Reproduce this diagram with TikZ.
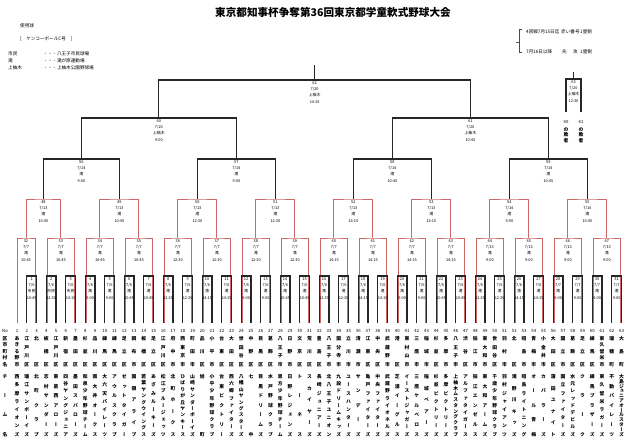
\documentclass[tikz,border=0pt]{standalone}
\usepackage{fontspec}
\setmainfont{Noto Sans CJK JP}
\newfontfamily\tatefont[RawFeature=+vert]{Noto Sans CJK JP}
\usetikzlibrary{positioning,calc}
\definecolor{bracketred}{RGB}{205,105,105}

% vertical (tategaki) text spread over a fixed height
\def\tatecell#1{\hbox to 1em{\hss\raisebox{0pt}[.9em][.1em]{#1}\hss}}
\def\tateaux#1{\ifx\relax#1\else\tatecell{#1}\vfill\expandafter\tateaux\fi}
\newcommand\tatebox[2]{\vbox to #1{\offinterlineskip\expandafter\tateaux#2\relax\unskip}}

\begin{document}
\begin{tikzpicture}[
    x=1pt,y=-1pt,
    line/.style={draw=black!85,line width=1.1pt},
    redline/.style={draw=bracketred,line width=0.95pt},
    info/.style={anchor=north,align=center,inner sep=0pt,font=\fontsize{3.9}{6.2}\selectfont},
    note/.style={anchor=west,inner sep=0pt,font=\fontsize{4.6}{6}\selectfont},
    num/.style={inner sep=0pt,font=\fontsize{4.3}{5}\selectfont},
    tate/.style={anchor=north,inner sep=0pt,font=\tatefont\bfseries\fontsize{4.8}{5}\selectfont},
]
\useasboundingbox[fill=white] (0,0) rectangle (640,443);

% ===== Title and notes =====
\node[font=\bfseries\fontsize{10.6}{12}\selectfont] (title) at (333,12) {東京都知事杯争奪第36回東京都学童軟式野球大会};

\node[note] (ball) at (20,26) {使用球};
\node[note] (ballname) at (20,39) {[\quad ケンコーボールC号\quad ]};
\node[note] (v1) at (8,54) {市民};
\node[note] (v2) at (8,61) {滝};
\node[note] (v3) at (8,68) {上柚木};
\node[note] (v1name) at (43,54) {・・・八王子市民球場};
\node[note] (v2name) at (43,61) {・・・滝が原運動場};
\node[note] (v3name) at (43,68) {・・・上柚木公園野球場};

\node[note] (side1) at (526,32) {4回戦7月15日迄};
\node[note] (side1b) at (561,32) {赤い番号};
\node[note] (side1c) at (580,32) {1塁側};
\node[note] (side2) at (526,52) {7月16日以降};
\node[note] (side2b) at (562,52) {先};
\node[note] (side2c) at (573,52) {攻};
\node[note] (side2d) at (580,52) {1塁側};
\draw[black!70,line width=0.5pt] (side1.west) ++(-4,-3) -- ++(-3,0) -- ++(0,23) -- ++(3,0);
\draw[black!70,line width=0.5pt] (side1.west) ++(-7,10) -- ++(-3,0);

% ===== Rows =====
\coordinate (row1) at (0,276);
\coordinate (row2) at (0,238);
\coordinate (row3) at (0,199);
\coordinate (row4) at (0,159);
\coordinate (row5) at (0,118);
\coordinate (row6) at (0,80);

% ===== Teams =====
\foreach \k in {1,...,63}
    \coordinate (t\k) at ({17+9.75*(\k-1)},323);

\node[num] (nohead) at (5,331) {No};
\node[tate] (dhead) at (5,336) {\tatebox{30pt}{区市町村名}};
\node[tate] (nhead) at (5,374) {\tatebox{62pt}{チーム名}};

\foreach \k/\dname/\tname in {
    1/あきる野市/西多摩ライオンズ, 2/江戸川区/瑞江サンボーイズ, 3/北区/北町クラブ,
    4/板橋区/志村サンダーズ, 5/江戸川区/東葛西アローズ, 6/新宿区/四谷ヤングジュニア,
    7/墨田区/墨田スパローズ, 8/杉並区/和泉少年野球チーム, 9/品川区/南大井オークス,
    10/練馬区/大六天パイレーツ, 11/練馬区/アウルスクラブ, 12/足立区/ゼットタイガー,
    13/調布市/国領アライブ, 14/板橋区/若葉ヤングウイングス, 15/足立区/あざみルーキーズ,
    16/江戸川区/松江ブルージェッツ, 17/府中市/北町ホークス, 18/西東京市/ひばりが丘ヤンキース,
    19/町田市/山崎サンダーボーイズ, 20/品川区/旭町, 21/小平市/小平少年野球クラブ,
    22/台東区/台東ビクトリー, 23/大田区/西六郷ファイターズ, 24/世田谷区/八幡山ヤングスターズ,
    25/中野区/七中, 26/目黒区/目黒ドリームズ, 27/葛飾区/水戸野球クラブ,
    28/八王子市/恩方少年野球チーム, 29/日野市/日野レジェンズ, 30/文京区/トーネス,
    31/荒川区/スカイヤーズ, 32/豊島区/長崎ジュニアーズ, 33/八王子市/北八王子ユニオン,
    34/国分寺市/九段ドリームキッズ, 35/立川市/ユースハンターズ, 36/清瀬市/サンデーズ,
    37/江東区/亀戸ファイターズ, 38/中央区/中央ファイターズ, 39/武蔵野市/武蔵野ライオネルズ,
    40/港区/芝浦イーグルス, 41/東村山市/イーストジャガーズ, 42/三鷹市/三鷹ケルベロス,
    43/稲城市/稲城ベアーズ, 44/杉並区/杉並ビクトリーズ, 45/多摩市/多摩ビクトリーズ,
    46/八王子市/上柚木ムスタングクラブ, 47/渋谷区/アルファタイガース, 48/狛江市/狛江エンゼルス,
    49/東大和市/東大和アームズ, 50/世田谷区/千歳少年野球クラブ, 51/羽村市/羽村ジャイアンツ,
    52/北区/滝野川キッズ, 53/昭島市/昭島ライトニング, 54/青梅市/オール青梅,
    55/小金井市/カバラーズ, 56/大田区/蒲田ユナイト, 57/国立市/国立ファイターズ,
    58/葛飾区/水元レッドデビルズ, 59/足立区/クラーク, 60/練馬区/練馬ブラザーズ,
    61/東久留米市/東久留米ラガーズ, 62/瑞穂町/不動パイレーツ, 63/大島町/大島ジュニアオールスターズ}{
    \node[num] (no\k) at ($(t\k)+(0,8)$) {\k};
    \node[tate] (d\k) at ($(t\k)+(0,13)$) {\tatebox{30pt}{\dname}};
    \node[tate] (n\k) at ($(t\k)+(0,51)$) {\tatebox{62pt}{\tname}};
}

% ===== 2nd round (32-47), red boxes down to the teams =====
\coordinate (rl32) at (t1);
\coordinate (rr32) at ($(t3)+(-1.5,0)$);
\foreach \i in {1,...,15}{
    \pgfmathtruncatemacro\p{32+\i}
    \pgfmathtruncatemacro\a{4*\i}
    \pgfmathtruncatemacro\b{4*\i+3}
    \coordinate (rl\p) at ($(t\a)+(1.5,0)$);
    \coordinate (rr\p) at ($(t\b)+(-1.5,0)$);
}
\foreach \p in {32,...,47}{
    \coordinate (c\p) at ($(rl\p)!.5!(rr\p)$);
    \coordinate (m\p) at (c\p |- row2);
    \draw[redline] (rl\p) |- (m\p) -| (rr\p);
}

% ===== 1st round (1-31) =====
\foreach \j in {1,...,31}{
    \pgfmathtruncatemacro\a{2*\j}
    \pgfmathtruncatemacro\b{2*\j+1}
    \coordinate (c\j) at ($(t\a)!.5!(t\b)$);
    \coordinate (m\j) at (c\j |- row1);
    \draw[line] (t\a) |- (m\j) -| (t\b);
}

% ===== 3rd round (48-55) =====
\foreach \i in {0,...,7}{
    \pgfmathtruncatemacro\p{48+\i}
    \pgfmathtruncatemacro\a{32+2*\i}
    \pgfmathtruncatemacro\b{33+2*\i}
    \coordinate (c\p) at ($(m\a)!.5!(m\b)$);
    \coordinate (m\p) at (c\p |- row3);
    \draw[redline] (m\a) |- (m\p) -| (m\b);
}

% ===== 4th round (56-59) =====
\foreach \i in {0,...,3}{
    \pgfmathtruncatemacro\p{56+\i}
    \pgfmathtruncatemacro\a{48+2*\i}
    \pgfmathtruncatemacro\b{49+2*\i}
    \coordinate (c\p) at ($(m\a)!.5!(m\b)$);
    \coordinate (m\p) at (c\p |- row4);
    \draw[line] (m\a) |- (m\p) -| (m\b);
}

% ===== semi-finals and final =====
\foreach \i in {0,1}{
    \pgfmathtruncatemacro\p{60+\i}
    \pgfmathtruncatemacro\a{56+2*\i}
    \pgfmathtruncatemacro\b{57+2*\i}
    \coordinate (c\p) at ($(m\a)!.5!(m\b)$);
    \coordinate (m\p) at (c\p |- row5);
    \draw[line] (m\a) |- (m\p) -| (m\b);
}
\coordinate (c62) at ($(m60)!.5!(m61)$);
\coordinate (m62) at (c62 |- row6);
\draw[line] (m60) |- (m62) -| (m61);
\draw[line] (m62) -- ++(0,-15);

% ===== 3rd place =====
\coordinate (m63) at (573.5,79);
\coordinate (lose60) at (566,112);
\coordinate (lose61) at (581,112);
\draw[line] (lose60) |- (m63) -| (lose61);
\draw[line] (m63) -- ++(0,-7);
\node[num] (from60) at ($(lose60)+(0,10)$) {60};
\node[num] (from61) at ($(lose61)+(0,10)$) {61};
\node[tate] (loser60) at ($(lose60)+(0,15)$) {\tatebox{15pt}{の敗者}};
\node[tate] (loser61) at ($(lose61)+(0,15)$) {\tatebox{15pt}{の敗者}};

% ===== match info =====
\foreach \j/\dd/\v/\tm in {
    1/6/市民/10:45, 2/6/市民/12:30, 3/6/市民/14:15, 4/6/滝/9:00, 5/6/滝/9:00,
    6/6/滝/10:45, 7/6/滝/10:45, 8/6/滝/12:30, 9/6/滝/12:30, 10/6/滝/14:15,
    11/6/滝/14:15, 12/6/滝/9:00, 13/6/滝/9:00, 14/6/滝/10:45, 15/6/滝/10:45,
    16/6/滝/12:30, 17/6/滝/12:30, 18/6/滝/14:15, 19/6/滝/14:15, 20/6/滝/9:00,
    21/6/滝/9:00, 22/6/滝/10:45, 23/6/滝/10:45, 24/6/滝/12:30, 25/6/滝/12:30,
    26/6/滝/14:15, 27/6/滝/14:15, 28/7/滝/9:00, 29/7/滝/9:00, 30/7/滝/9:00, 31/7/滝/9:00,
    32/7/滝/10:45, 33/7/滝/10:45, 34/7/滝/10:45, 35/7/滝/10:45, 36/7/滝/12:30,
    37/7/滝/12:30, 38/7/滝/12:30, 39/7/滝/12:30, 40/7/滝/14:15, 41/7/滝/14:15,
    42/7/滝/14:15, 43/7/滝/14:15, 44/13/滝/9:00, 45/13/滝/9:00, 46/13/滝/9:00, 47/13/滝/9:00,
    48/13/滝/10:45, 49/13/滝/10:45, 50/13/滝/12:30, 51/13/滝/12:30,
    52/13/滝/14:15, 53/13/滝/14:15, 54/14/滝/9:00, 55/14/滝/10:45,
    56/14/滝/9:00, 57/14/滝/9:00, 58/14/滝/10:45, 59/14/滝/10:45,
    60/20/上柚木/9:00, 61/20/上柚木/10:45, 62/20/上柚木/14:15, 63/20/上柚木/12:30}{
    \node[info] (i\j) at ($(m\j)+(0,1.5)$) {\j\\7/\dd\\\v\\\tm};
}

\end{tikzpicture}
\end{document}
